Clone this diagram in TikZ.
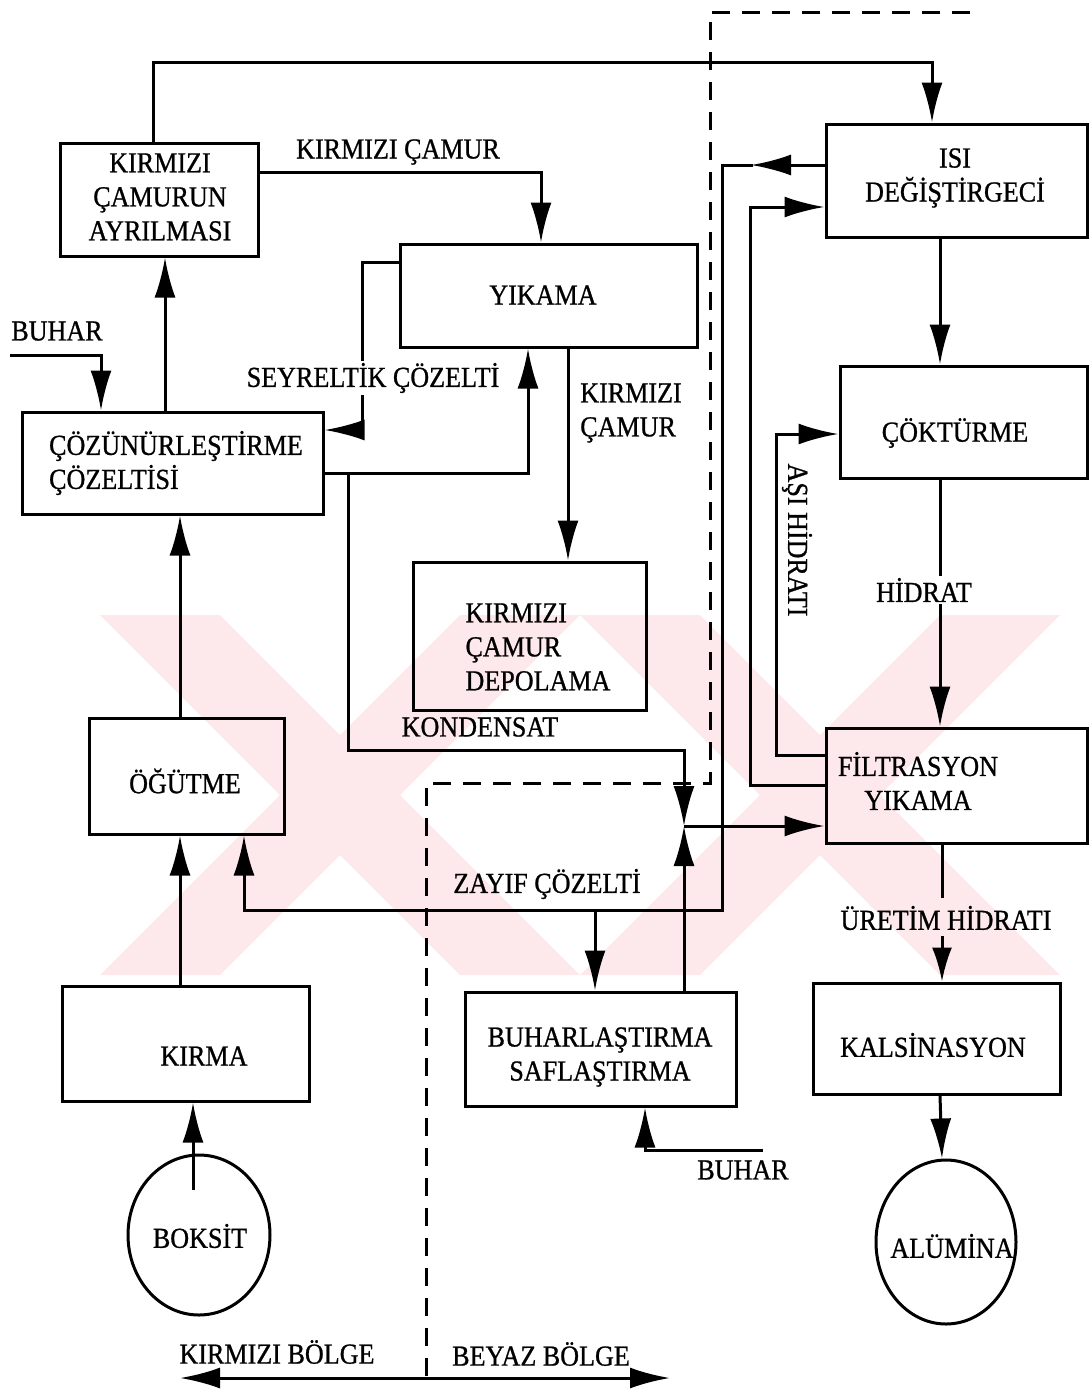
\documentclass[tikz,border=0pt]{standalone}
\usepackage{fontspec}
\setmainfont{Liberation Serif}[FakeStretch=0.9,FakeBold=0.8]
\usetikzlibrary{arrows.meta,shapes.geometric}
\definecolor{wm}{RGB}{253,232,236}
\begin{document}
\begin{tikzpicture}[x=1pt,y=-1pt,
  ln/.style={line width=3pt},
  arr/.style={ln,-{Latex[length=40pt,width=21pt]}},
  blk/.style={draw,line width=3pt,inner sep=0pt},
  txt/.style={font=\fontsize{29}{34}\selectfont,inner sep=1pt,align=center},
  lab/.style={txt,fill=white,inner sep=2pt},
  dsh/.style={line width=3pt,dash pattern=on 18pt off 12pt}]
\useasboundingbox (0,0) rectangle (1089,1395);
\fill[white] (0,0) rectangle (1089,1395);
% watermark
\begin{scope}
\clip (100,615) rectangle (1060,975);
\fill[wm] (100,615) -- (220,615) -- (580,975) -- (460,975) -- cycle;
\fill[wm] (100,975) -- (220,975) -- (580,615) -- (460,615) -- cycle;
\fill[wm] (580,615) -- (700,615) -- (1060,975) -- (940,975) -- cycle;
\fill[wm] (580,975) -- (700,975) -- (1060,615) -- (940,615) -- cycle;
\end{scope}
% boxes
\node[blk,minimum width=198pt,minimum height=113pt] (kca) at (159,199.5) {};
\node[blk,minimum width=297pt,minimum height=103pt] (yik) at (548.5,295.5) {};
\node[blk,minimum width=301pt,minimum height=102pt] (coz) at (172.5,463) {};
\node[blk,minimum width=233pt,minimum height=148pt] (dep) at (529.5,636) {};
\node[blk,minimum width=195pt,minimum height=116pt] (ogu) at (186.5,776) {};
\node[blk,minimum width=247pt,minimum height=115pt] (kir) at (185.5,1043.5) {};
\node[blk,minimum width=261pt,minimum height=113pt] (isi) at (956.5,180.5) {};
\node[blk,minimum width=247pt,minimum height=112pt] (cok) at (963.5,422) {};
\node[blk,minimum width=261pt,minimum height=115pt] (fil) at (956.5,785.5) {};
\node[blk,minimum width=247pt,minimum height=111pt] (kal) at (936.5,1038.5) {};
\node[blk,minimum width=271pt,minimum height=114pt] (buh) at (600.5,1049) {};
\node[blk,ellipse,minimum width=142pt,minimum height=160pt] (bok) at (199,1235) {};
\node[blk,ellipse,minimum width=140pt,minimum height=164pt] (alu) at (946,1242) {};
% box texts
\node[txt] (tkca) at (160,197) {KIRMIZI\\ÇAMURUN\\AYRILMASI};
\node[txt] (tyik) at (543,295) {YIKAMA};
\node[txt,align=left] (tcoz) at (176,463) {ÇÖZÜNÜRLEŞTİRME\\ÇÖZELTİSİ};
\node[txt,align=left] (tdep) at (538,647) {KIRMIZI\\ÇAMUR\\DEPOLAMA};
\node[txt] (togu) at (185,781) {ÖĞÜTME};
\node[txt] (tkir) at (204,1056) {KIRMA};
\node[txt] (tbok) at (200,1236) {BOKSİT};
\node[txt] (talu) at (952,1246) {ALÜMİNA};
\node[txt] (tisi) at (955,178) {ISI\\DEĞİŞTİRGECİ};
\node[txt] (tcok) at (955,433) {ÇÖKTÜRME};
\node[txt] (tfil) at (918,781) {FİLTRASYON\\YIKAMA};
\node[txt] (tkal) at (933,1045) {KALSİNASYON};
\node[txt] (tbuh) at (600,1057) {BUHARLAŞTIRMA\\SAFLAŞTIRMA};
% coordinates
\coordinate (bh1) at (10,355);
\coordinate (j1) at (348,473);
\coordinate (meet) at (684,826);
\coordinate (j2) at (595,910);
\coordinate (bk1) at (193,1190);
\coordinate (bh2) at (763,1150);
\coordinate (zb) at (426,1378);
\coordinate (uh1) at (942,898);
\coordinate (uh2) at (942,936);
% connectors
\draw[arr] ([xshift=-6pt]kca.north) -- (153,62) -| ([xshift=-24.5pt]isi.north);
\draw[arr] ([yshift=27.5pt]kca.east) -| ([xshift=-7.5pt]yik.north);
\draw[arr] ([yshift=33.5pt]yik.west) -| (362,430) -- ([yshift=33pt]coz.east);
\draw[arr] ([yshift=-10pt]coz.east) -| ([xshift=-20.5pt]yik.south);
\draw[arr] ([xshift=-7.5pt]coz.north) -- ([xshift=6pt]kca.south);
\draw[arr] (bh1) -| ([xshift=-71.5pt]coz.north);
\draw[arr] ([xshift=19.5pt]yik.south) -- ([xshift=38.5pt]dep.north);
\draw[arr] (j1) |- (684,750) -- (meet);
\draw[arr] ([xshift=83.5pt]buh.north) -- (meet);
\draw[arr] (meet) -- ([yshift=-40.5pt]fil.west);
\draw[arr] ([yshift=15.5pt]isi.west) -- (751,165);
\draw[arr] (753,165) -- (722,165) -- (722,910) -| ([xshift=57.5pt]ogu.south);
\draw[arr] (j2) -- ([xshift=-5.5pt]buh.north);
\draw[arr] (fil.west) -| (750,207) -- ([yshift=-26.5pt]isi.west);
\draw[arr] ([yshift=30.5pt]fil.west) -| (776,434) -- ([yshift=-12pt]cok.west);
\draw[arr] ([xshift=-16.5pt]isi.south) -- ([xshift=-23.5pt]cok.north);
\draw[arr] ([xshift=-23.5pt]cok.south) -- ([xshift=-16.5pt]fil.north);
\draw[ln] ([xshift=-14.5pt]fil.south) -- (uh1);
\draw[ln,-{Latex[length=34pt,width=20pt]}] (uh2) -- ([xshift=5.5pt]kal.north);
\draw[arr] ([xshift=3.5pt]kal.south) -- ([xshift=-4pt]alu.north);
\draw[arr] (bk1) -- ([xshift=7.5pt]kir.south);
\draw[arr] ([xshift=-5.5pt]kir.north) -- ([xshift=-6.5pt]ogu.south);
\draw[arr] ([xshift=-6.5pt]ogu.north) -- ([xshift=7.5pt]coz.south);
\draw[arr] (bh2) -| ([xshift=44.5pt]buh.south);
% zone boundary
\draw[dsh] (970,12) -- (710,12) -- (710,783) -- (426,783) -- (426,1380);
\draw[arr] (zb) -- (180,1378);
\draw[arr] (zb) -- (670,1378);
% labels
\node[txt] (l1) at (398,152) {KIRMIZI ÇAMUR};
\node[txt] (l2) at (57,331) {BUHAR};
\node[lab] (l3) at (373,378) {SEYRELTİK ÇÖZELTİ};
\node[txt,align=left] (l4) at (631,413) {KIRMIZI\\ÇAMUR};
\node[txt] (l5) at (480,727) {KONDENSAT};
\node[txt] (l6) at (547,884) {ZAYIF ÇÖZELTİ};
\node[txt] (l7) at (743,1170) {BUHAR};
\node[lab] (l8) at (924,590) {HİDRAT};
\node[txt,rotate=-90] (l9) at (797,540) {AŞI HİDRATI};
\node[txt] (l10) at (946,918) {ÜRETİM HİDRATI};
\node[txt] (l11) at (277,1352) {KIRMIZI BÖLGE};
\node[txt] (l12) at (541,1354) {BEYAZ BÖLGE};
\end{tikzpicture}
\end{document}
